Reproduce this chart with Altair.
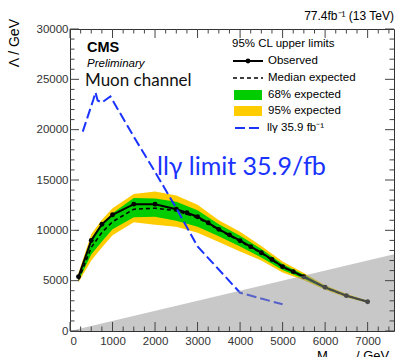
import altair as alt
import pandas as pd

# ---------------- data ----------------
obs_mass = [200, 500, 750, 1000, 1500, 2000, 2500, 2750, 3000, 3250, 3500, 3750, 4000,
            4250, 4500, 4750, 5000, 5250, 5500, 6000, 6500, 7000]
observed = [5400, 9000, 10600, 11550, 12600, 12600, 12100, 11750, 11350, 10750, 10100, 9550, 8970,
            8380, 7780, 7100, 6390, 5900, 5390, 4340, 3510, 2910]

band_mass = [200, 500, 750, 1000, 1500, 2000, 2500, 3000, 3500, 4000, 4500, 5000, 5500, 6000, 6500, 7000]
median = [5100, 8300, 9800, 10850, 12100, 12200, 11950, 11250, 10050, 8900, 7750, 6350, 5380, 4320, 3500, 2900]
lo68 = [5000, 7600, 8900, 10100, 11300, 11350, 10950, 10350, 9400, 8400, 7300, 6050, 5200, 4200, 3420, 2840]
hi68 = [5450, 9200, 10700, 11700, 13200, 13150, 12850, 12000, 10600, 9450, 8150, 6650, 5600, 4450, 3600, 2970]
lo95 = [4850, 7000, 8300, 9500, 10800, 10550, 10350, 9750, 8850, 7900, 7000, 5800, 5050, 4100, 3330, 2780]
hi95 = [5750, 9600, 11050, 12200, 13600, 13850, 13450, 12550, 11000, 9850, 8450, 6900, 5750, 4550, 3700, 3030]

llg_mass = [300, 550, 600, 650, 750, 950, 1500, 2000, 2500, 3000, 4000, 5000]
llg_lambda = [19800, 23000, 23700, 22900, 22700, 23300, 19300, 15800, 12200, 8400, 3800, 2650]

excl_mass = [0, 7620]
excl_lambda = [0, 7620]

x_major = [0, 1000, 2000, 3000, 4000, 5000, 6000, 7000]
x_minor = [250, 500, 750, 1250, 1500, 1750, 2250, 2500, 2750, 3250, 3500, 3750, 4250, 4500,
           4750, 5250, 5500, 5750, 6250, 6500, 6750, 7250, 7500]
y_major = [0, 5000, 10000, 15000, 20000, 25000, 30000]
y_minor = [1000, 2000, 3000, 4000, 6000, 7000, 8000, 9000, 11000, 12000, 13000, 14000, 16000,
           17000, 18000, 19000, 21000, 22000, 23000, 24000, 26000, 27000, 28000, 29000]

# ---------------- geometry ----------------
W, H = 324, 302
L, T = 70, 29
FONT = "Liberation Sans"

xs = alt.Scale(domain=[0, 7620], nice=False, zero=False)
ys = alt.Scale(domain=[0, 30000], nice=False)

AX = alt.Axis(values=x_major, title=None, domain=False, ticks=False, grid=False,
              labelFontSize=11.5, labelFont=FONT, labelColor="#333",
              labelPadding=4, format="d")
AY = alt.Axis(values=y_major, title=None, domain=False, ticks=False, grid=False,
              labelFontSize=11.5, labelFont=FONT, labelColor="#333",
              labelPadding=2, format="d")

obs_df = pd.DataFrame({"m": obs_mass, "v": observed})
band_df = pd.DataFrame({"m": band_mass, "med": median, "lo68": lo68, "hi68": hi68,
                        "lo95": lo95, "hi95": hi95})
llg_df = pd.DataFrame({"m": llg_mass, "v": llg_lambda})
excl_df = pd.DataFrame({"m": excl_mass, "v": excl_lambda})
dummy = pd.DataFrame({"d": [0]})

X = lambda f: alt.X(f, type="quantitative", scale=xs, axis=AX)
Y = lambda f: alt.Y(f, type="quantitative", scale=ys, axis=AY)

band95 = alt.Chart(band_df).mark_area(color="#ffcc00", clip=True).encode(
    x=X("m"), y=Y("lo95"), y2="hi95:Q")
band68 = alt.Chart(band_df).mark_area(color="#00cc00", clip=True).encode(
    x=X("m"), y=Y("lo68"), y2="hi68:Q")
med = alt.Chart(band_df).mark_line(color="black", strokeDash=[4, 3], strokeWidth=1.6, clip=True).encode(
    x=X("m"), y=Y("med"))
obs_line = alt.Chart(obs_df).mark_line(color="black", strokeWidth=2, clip=True).encode(
    x=X("m"), y=Y("v"))
obs_pts = alt.Chart(obs_df).mark_point(color="black", filled=True, size=24, opacity=1, clip=True).encode(
    x=X("m"), y=Y("v"))
llg = alt.Chart(llg_df).mark_line(color="#1a33ff", strokeDash=[10, 4], strokeWidth=2, clip=True).encode(
    x=X("m"), y=Y("v"))
excl = alt.Chart(excl_df).mark_area(color="#929292", opacity=0.5, clip=True).encode(
    x=X("m"), y=Y("v"))

# ---------------- inward ticks ----------------
def xticks(vals, length):
    d = pd.DataFrame({"t": vals})
    bot = alt.Chart(d).mark_rule(color="#444", strokeWidth=1).encode(
        x=X("t"), y=alt.value(H), y2=alt.value(H - length))
    top = alt.Chart(d).mark_rule(color="#444", strokeWidth=1).encode(
        x=X("t"), y=alt.value(0), y2=alt.value(length))
    return [bot, top]

def yticks(vals, length):
    d = pd.DataFrame({"t": vals})
    left = alt.Chart(d).mark_rule(color="#444", strokeWidth=1).encode(
        y=Y("t"), x=alt.value(0), x2=alt.value(length))
    right = alt.Chart(d).mark_rule(color="#444", strokeWidth=1).encode(
        y=Y("t"), x=alt.value(W), x2=alt.value(W - length))
    return [left, right]

ticks = xticks(x_major, 9) + xticks(x_minor, 4.5) + yticks(y_major, 9) + yticks(y_minor, 4.5)

# ---------------- texts ----------------
def txt(s, x, y, size, color="black", font=FONT, align="left", baseline="middle",
        angle=0, weight="normal", style="normal"):
    return alt.Chart(dummy).mark_text(
        text=s, align=align, baseline=baseline, fontSize=size, font=font, color=color,
        angle=angle, fontWeight=weight, fontStyle=style).encode(
        x=alt.value(x - L), y=alt.value(y - T))

texts = [
    txt("77.4fb⁻¹ (13 TeV)", 394, 16, 12, align="right"),
    txt("CMS", 87, 48, 14.5, weight="bold"),
    txt("Preliminary", 87, 64, 11.5, style="italic"),
    txt("Muon channel", 85, 81, 17, color="#111", font="Lato"),
    txt("llγ limit 35.9/fb", 157, 167, 25, color="#1a33ff", font="Lato"),
    txt("Λ / GeV", 15, 19, 14, align="right", angle=270),
    txt("M", 317, 350, 13, baseline="top"),
    txt("μ*", 328, 356, 9, baseline="top"),
    txt("/ GeV", 356, 350, 13, baseline="top"),
    # legend
    txt("95% CL upper limits", 232, 44, 11.5),
    txt("Observed", 268, 61, 11.5),
    txt("Median expected", 268, 78, 11.5),
    txt("68% expected", 268, 95, 11.5),
    txt("95% expected", 268, 111, 11.5),
    txt("llγ 35.9 fb⁻¹", 267, 128, 11.5),
]

def v(x, y):
    return dict(x=alt.value(x - L), y=alt.value(y - T))

leg = [
    alt.Chart(dummy).mark_rule(color="black", strokeWidth=2).encode(
        x=alt.value(233 - L), x2=alt.value(263 - L), y=alt.value(61 - T)),
    alt.Chart(dummy).mark_point(color="black", filled=True, size=24, opacity=1).encode(**v(248, 61)),
    alt.Chart(dummy).mark_rule(color="black", strokeWidth=1.6, strokeDash=[4, 3]).encode(
        x=alt.value(233 - L), x2=alt.value(263 - L), y=alt.value(78 - T)),
    alt.Chart(dummy).mark_rect(color="#00cc00").encode(
        x=alt.value(234 - L), x2=alt.value(262 - L), y=alt.value(90 - T), y2=alt.value(100 - T)),
    alt.Chart(dummy).mark_rect(color="#ffcc00").encode(
        x=alt.value(234 - L), x2=alt.value(262 - L), y=alt.value(106 - T), y2=alt.value(116 - T)),
    alt.Chart(dummy).mark_rule(color="#1a33ff", strokeWidth=2, strokeDash=[10, 4]).encode(
        x=alt.value(235 - L), x2=alt.value(263 - L), y=alt.value(128 - T)),
]

chart = alt.layer(
    band95, band68, med, obs_line, obs_pts, llg, excl, *ticks, *texts, *leg
).properties(
    width=W, height=H,
    autosize=alt.AutoSizeParams(type="none"),
    padding={"left": L, "top": T, "right": 396 - L - W, "bottom": 357 - T - H},
    background="white",
).configure_view(stroke="#333", strokeWidth=1)

chart.save("out.html", embed_options={"renderer": "svg", "actions": False})
